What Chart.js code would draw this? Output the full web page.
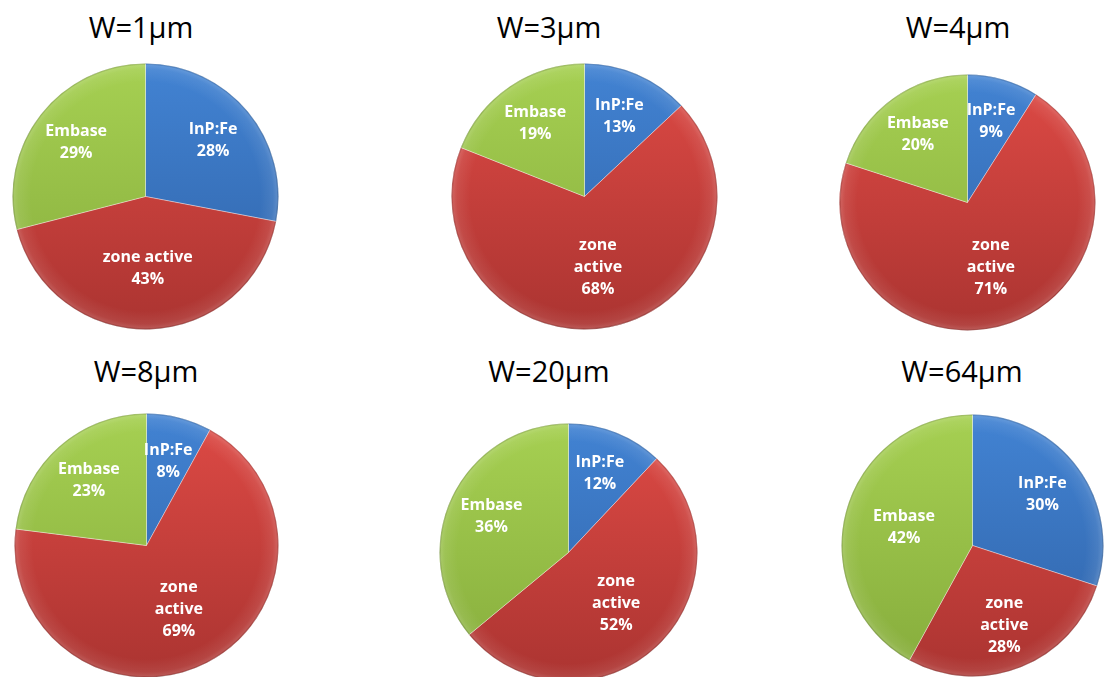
<!DOCTYPE html>
<html>
<head>
<meta charset="utf-8">
<script src="https://cdn.jsdelivr.net/npm/chart.js@4.4.0/dist/chart.umd.min.js"></script>
<style>
  body { margin: 0; background: #fff; width: 1105px; height: 677px; overflow: hidden; position: relative; font-family: "Open Sans", sans-serif; }
  .title { position: absolute; width: 220px; text-align: center; font-size: 29px; line-height: 1; color: #000; white-space: nowrap; }
  .pie { position: absolute; }
</style>
</head>
<body>
<script>
var titles = ['W=1μm', 'W=3μm', 'W=4μm', 'W=8μm', 'W=20μm', 'W=64μm'];
var categories = ['InP:Fe', 'zone active', 'Embase'];
var zoneLabels = ['zone active', 'zone\nactive', 'zone\nactive', 'zone\nactive', 'zone\nactive', 'zone\nactive'];
var inpFe = [28, 13, 9, 8, 12, 30];
var zoneActive = [43, 68, 71, 69, 52, 28];
var embase = [29, 19, 20, 23, 36, 42];

// page layout: pie centre / radius, title centre / top
var boxes = [
  { cx: 145, cy: 196, r: 133, tx: 141, ty: 12 },
  { cx: 584, cy: 196, r: 133, tx: 549, ty: 12 },
  { cx: 967, cy: 202, r: 128, tx: 958, ty: 12 },
  { cx: 146, cy: 545, r: 132, tx: 146, ty: 356 },
  { cx: 568, cy: 552, r: 129, tx: 549, ty: 356 },
  { cx: 972, cy: 545, r: 131, tx: 962, ty: 356 }
];

// top / bottom colour of each slice
var sliceShades = [
  ['#4283d3', '#2f62a6'],
  ['#de4a45', '#ab3431'],
  ['#a6d052', '#86ac3c']
];

function sliceFill(context) {
  var pair = sliceShades[context.dataIndex % sliceShades.length];
  var area = context.chart.chartArea;
  if (!area) return pair[0];
  var g = context.chart.ctx.createLinearGradient(0, area.top, 0, area.bottom);
  g.addColorStop(0, pair[0]);
  g.addColorStop(1, pair[1]);
  return g;
}

var bevel = {
  id: 'bevel',
  afterDatasetsDraw: function (chart) {
    var arc = chart.getDatasetMeta(0).data[0];
    var ctx = chart.ctx, r = arc.outerRadius;
    var g = ctx.createRadialGradient(arc.x, arc.y, r * 0.86, arc.x, arc.y, r);
    g.addColorStop(0, 'rgba(255,255,255,0)');
    g.addColorStop(0.7, 'rgba(255,255,255,0.08)');
    g.addColorStop(0.9, 'rgba(255,255,255,0.16)');
    g.addColorStop(1, 'rgba(0,0,0,0.22)');
    ctx.save();
    ctx.beginPath();
    ctx.arc(arc.x, arc.y, r, 0, 2 * Math.PI);
    ctx.fillStyle = g;
    ctx.fill();
    ctx.restore();
  }
};

var sliceLabels = {
  id: 'sliceLabels',
  afterDatasetsDraw: function (chart) {
    var ctx = chart.ctx;
    var meta = chart.getDatasetMeta(0);
    var values = chart.data.datasets[0].data;
    ctx.save();
    ctx.fillStyle = '#fff';
    ctx.font = 'bold 16px "Open Sans"';
    ctx.textAlign = 'center';
    ctx.textBaseline = 'middle';
    meta.data.forEach(function (arc, i) {
      var share = (arc.endAngle - arc.startAngle) / (2 * Math.PI);
      var mid = (arc.startAngle + arc.endAngle) / 2;
      var d = arc.outerRadius * (share > 0.4 ? 0.54 : 0.66);
      var x = arc.x + Math.cos(mid) * d;
      var y = arc.y + Math.sin(mid) * d;
      var lines = String(chart.data.labels[i]).split('\n').concat(values[i] + '%');
      var lh = 22;
      lines.forEach(function (t, k) {
        ctx.fillText(t, x, y + (k - (lines.length - 1) / 2) * lh);
      });
    });
    ctx.restore();
  }
};

boxes.forEach(function (b, i) {
  var t = document.createElement('div');
  t.className = 'title';
  t.textContent = titles[i];
  t.style.left = (b.tx - 110) + 'px';
  t.style.top = b.ty + 'px';
  document.body.appendChild(t);

  var size = Math.round(b.r * 2 + 1);
  var c = document.createElement('canvas');
  c.className = 'pie';
  c.width = size;
  c.height = size;
  c.style.left = Math.round(b.cx - size / 2) + 'px';
  c.style.top = Math.round(b.cy - size / 2) + 'px';
  document.body.appendChild(c);

  new Chart(c, {
    type: 'pie',
    data: {
      labels: [categories[0], zoneLabels[i], categories[2]],
      datasets: [{
        data: [inpFe[i], zoneActive[i], embase[i]],
        backgroundColor: sliceFill,
        borderColor: 'rgba(255,255,255,0.35)',
        borderWidth: 1
      }]
    },
    options: {
      responsive: false,
      animation: false,
      events: [],
      layout: { padding: 0 },
      plugins: {
        legend: { display: false },
        tooltip: { enabled: false },
        title: { display: false }
      }
    },
    plugins: [bevel, sliceLabels]
  });
});
</script>
</body>
</html>
